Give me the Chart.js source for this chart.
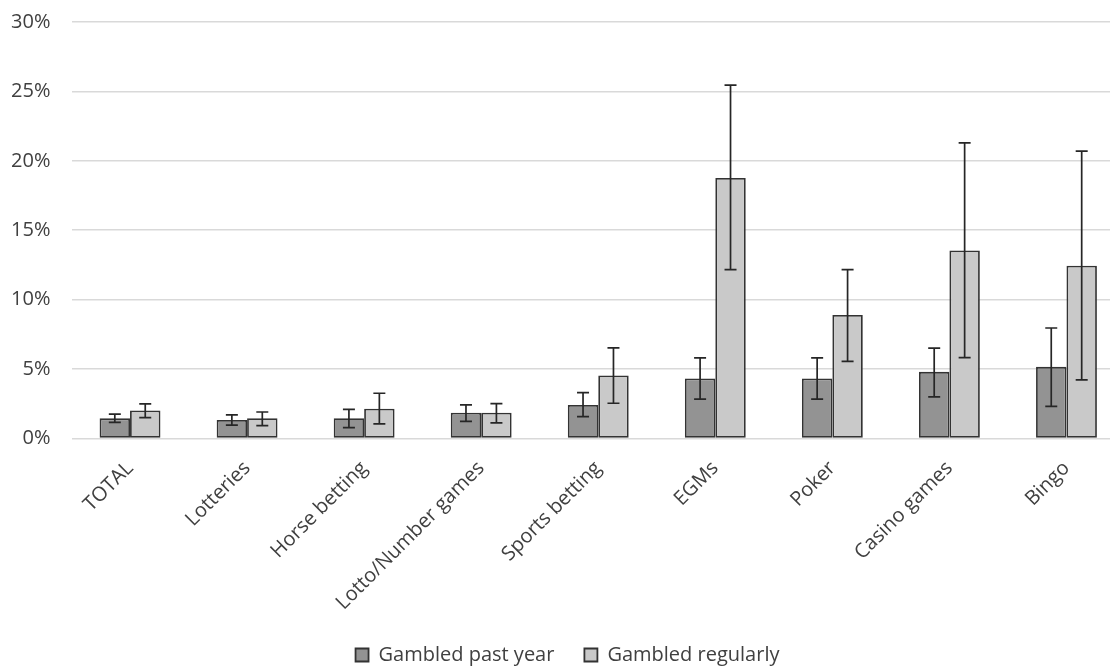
<!DOCTYPE html>
<html><head><meta charset="utf-8">
<script src="https://cdn.jsdelivr.net/npm/chart.js@4"></script>
<style>html,body{margin:0;padding:0;background:#fff;overflow:hidden}#wrap{width:1110px;height:666px;overflow:hidden;position:relative}canvas{position:absolute;left:0;top:0}</style>
</head><body><div id="wrap"><canvas id="c" width="1125" height="675"></canvas></div>
<script>
const categories = ['TOTAL','Lotteries','Horse betting','Lotto/Number games','Sports betting','EGMs','Poker','Casino games','Bingo'];
const seriesNames = ['Gambled past year','Gambled regularly'];
const pastYear     = [1.45, 1.34, 1.46, 1.86, 2.42, 4.32, 4.32, 4.80, 5.16];
const pastYearLow  = [1.16, 0.97, 0.78, 1.24, 1.58, 2.83, 2.83, 3.00, 2.32];
const pastYearHigh = [1.76, 1.70, 2.10, 2.42, 3.31, 5.81, 5.81, 6.51, 7.96];
const regularly     = [2.02, 1.46, 2.15, 1.86, 4.54, 18.76, 8.90, 13.54, 12.45];
const regularlyLow  = [1.50, 0.93, 1.05, 1.12, 2.54, 12.17, 5.55, 5.83, 4.22];
const regularlyHigh = [2.50, 1.91, 3.26, 2.51, 6.53, 25.45, 12.17, 21.30, 20.70];
const yTicks = [0, 5, 10, 15, 20, 25, 30];

const FONT = 'Open Sans';
const TXT = '#404040';

const errorBars = {
  id: 'errorBars',
  afterDatasetsDraw(chart) {
    const ctx = chart.ctx, y = chart.scales.y;
    [[pastYearLow, pastYearHigh], [regularlyLow, regularlyHigh]].forEach((pair, di) => {
      const meta = chart.getDatasetMeta(di);
      meta.data.forEach((bar, i) => {
        const x = bar.x;
        const yl = y.getPixelForValue(pair[0][i]);
        const yh = y.getPixelForValue(pair[1][i]);
        ctx.save();
        ctx.strokeStyle = '#262626';
        ctx.lineWidth = 1.7;
        ctx.beginPath();
        ctx.moveTo(x, yl); ctx.lineTo(x, yh);
        ctx.moveTo(x - 6, yl); ctx.lineTo(x + 6, yl);
        ctx.moveTo(x - 6, yh); ctx.lineTo(x + 6, yh);
        ctx.stroke();
        ctx.restore();
      });
    });
  }
};

new Chart(document.getElementById('c'), {
  type: 'bar',
  data: {
    labels: categories,
    datasets: [
      { label: seriesNames[0], data: pastYear, backgroundColor: '#939393', borderColor: '#333333', borderWidth: 1.8, borderSkipped: false },
      { label: seriesNames[1], data: regularly, backgroundColor: '#c9c9c9', borderColor: '#333333', borderWidth: 1.8, borderSkipped: false }
    ]
  },
  options: {
    responsive: false,
    animation: false,
    categoryPercentage: 0.52,
    barPercentage: 1.0,
    layout: { padding: { top: 22, right: 0, left: 10, bottom: 0 } },
    plugins: {
      legend: {
        position: 'bottom',
        labels: { font: { family: FONT, size: 20 }, color: TXT, boxWidth: 13, boxHeight: 13, padding: 30 }
      },
      tooltip: { enabled: false }
    },
    scales: {
      x: {
        grid: { display: false },
        border: { display: false },
        ticks: { autoSkip: false, maxRotation: 45, minRotation: 45, font: { family: FONT, size: 20 }, color: TXT, padding: 10 },
        afterFit(s) { s.height = 176.5; s.paddingLeft = 0; s.paddingRight = 0; }
      },
      y: {
        min: 0, max: 30,
        afterBuildTicks(s) { s.ticks = yTicks.map(v => ({ value: v })); },
        grid: { color: '#d9d9d9', lineWidth: 1.6, drawTicks: false },
        border: { display: false },
        ticks: { font: { family: FONT, size: 20 }, color: TXT, padding: 21, callback: v => v + '%' },
        afterFit(s) { s.width = 61.5; s.paddingTop = 0; s.paddingBottom = 0; }
      }
    }
  },
  plugins: [errorBars]
});
</script></body></html>
